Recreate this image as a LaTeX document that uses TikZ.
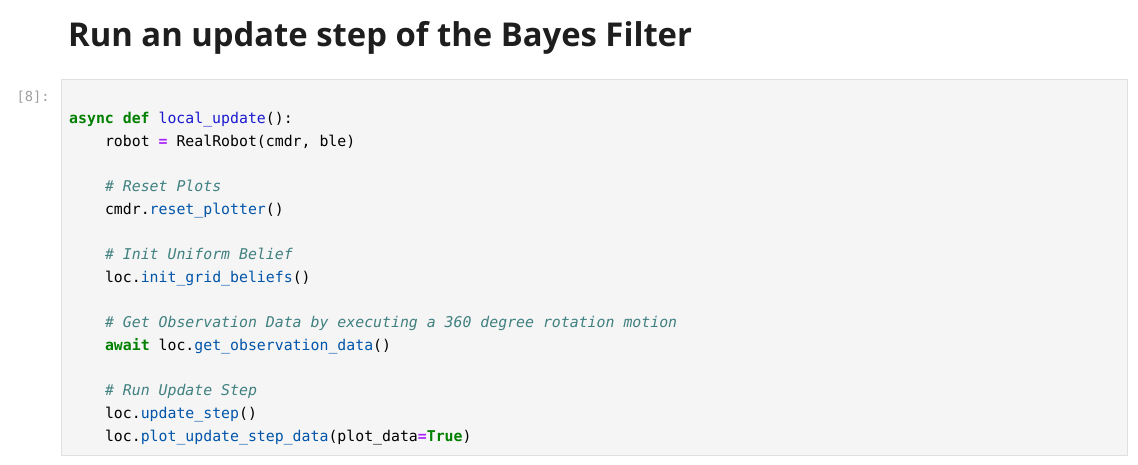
\documentclass[tikz,border=0pt]{standalone}
\usepackage{fontspec}
\setmainfont{Open Sans}
\setmonofont{DejaVu Sans Mono}
\definecolor{kwgreen}{HTML}{008000}
\definecolor{defblue}{HTML}{1A1AD0}
\definecolor{propblue}{HTML}{0055AA}
\definecolor{cmtgray}{HTML}{408080}
\definecolor{oppurple}{HTML}{AA22FF}
\definecolor{cellbg}{HTML}{F5F5F5}
\definecolor{cellborder}{HTML}{E0E0E0}
\definecolor{promptgray}{HTML}{A0A0A0}
\definecolor{titlecol}{HTML}{1E1E1E}
\newcommand\cdKw[1]{\textcolor{kwgreen}{\bfseries #1}}
\newcommand\cdFn[1]{\textcolor{defblue}{#1}}
\newcommand\cdPr[1]{\textcolor{propblue}{#1}}
\newcommand\cdCm[1]{\textcolor{cmtgray}{\itshape #1}}
\newcommand\cdOp[1]{\textcolor{oppurple}{\bfseries #1}}
\tikzset{
  codeline/.style={anchor=base west, inner sep=0pt, font=\ttfamily\fontsize{14.85}{17}\selectfont, text=black},
  titletext/.style={anchor=base west, inner sep=0pt, font=\bfseries\fontsize{32.8}{40}\selectfont, text=titlecol},
  prompt/.style={anchor=base east, inner sep=0pt, font=\ttfamily\fontsize{13.8}{16}\selectfont, text=promptgray},
  cellbox/.style={draw=cellborder, fill=cellbg, line width=1pt}
}
\begin{document}
\begin{tikzpicture}[x=1pt,y=-1pt]
\useasboundingbox (0,0) rectangle (1138,465);
\fill[white] (0,0) rectangle (1138,465);
\node[titletext] (title) at (68,47) {Run an update step of the Bayes Filter};
\node[cellbox, minimum width=1066pt, minimum height=376pt, anchor=north west, inner sep=0pt] (cell) at (61,79) {};
\node[prompt] (pr) at (50,102) {[8]:};
\def\Lx{69}
\def\Ly{104.8}
\def\bl#1{\fpeval{123.5+22.7*#1}}
\node[codeline] (l0) at (\Lx,\bl{0}) {\cdKw{async} \cdKw{def} \cdFn{local\_update}():};
\node[codeline] (l1) at (\Ly,\bl{1}) {robot \cdOp{=} RealRobot(cmdr, ble)};
\node[codeline] (l3) at (\Ly,\bl{3}) {\cdCm{\# Reset Plots}};
\node[codeline] (l4) at (\Ly,\bl{4}) {cmdr.\cdPr{reset\_plotter}()};
\node[codeline] (l6) at (\Ly,\bl{6}) {\cdCm{\# Init Uniform Belief}};
\node[codeline] (l7) at (\Ly,\bl{7}) {loc.\cdPr{init\_grid\_beliefs}()};
\node[codeline] (l9) at (\Ly,\bl{9}) {\cdCm{\# Get Observation Data by executing a 360 degree rotation motion}};
\node[codeline] (l10) at (\Ly,\bl{10}) {\cdKw{await} loc.\cdPr{get\_observation\_data}()};
\node[codeline] (l12) at (\Ly,\bl{12}) {\cdCm{\# Run Update Step}};
\node[codeline] (l13) at (\Ly,\bl{13}) {loc.\cdPr{update\_step}()};
\node[codeline] (l14) at (\Ly,\bl{14}) {loc.\cdPr{plot\_update\_step\_data}(plot\_data\cdOp{=}\cdKw{True})};
\end{tikzpicture}
\end{document}
